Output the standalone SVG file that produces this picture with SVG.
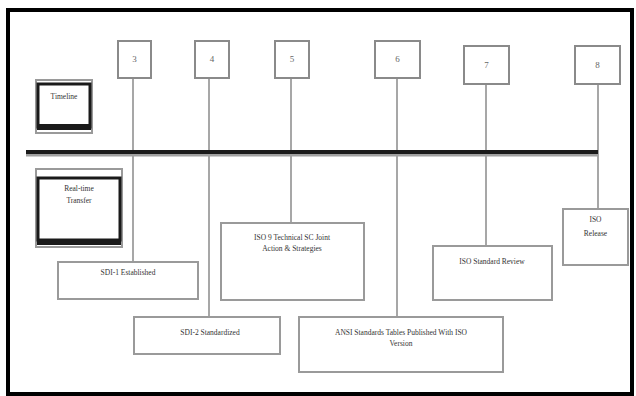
<svg xmlns="http://www.w3.org/2000/svg" width="636" height="396" viewBox="0 0 636 396">
<style>
.frame{fill:none;stroke:#000;stroke-width:4}
.num{fill:#fff;stroke:#8a8a8a;stroke-width:2}
.ev{fill:#fff;stroke:#9a9a9a;stroke-width:2}
.hb{fill:#fff;stroke:#1a1a1a;stroke-width:3}
.hs{fill:none;stroke:#9a9a9a;stroke-width:2}
.t{font-family:"Liberation Serif",serif;font-size:7.5px;fill:#333;text-anchor:middle}
.n{font-family:"Liberation Serif",serif;font-size:9px;fill:#666;text-anchor:middle}
.c{stroke:#8a8a8a;stroke-width:1.5;fill:none}
</style>
<rect x="0" y="0" width="636" height="396" fill="#fff"/>
<rect class="frame" x="8" y="10" width="624" height="384"/>
<g id="connectors">
<line class="c" x1="133" y1="78" x2="133" y2="262"/>
<line class="c" x1="209" y1="78" x2="209" y2="317"/>
<line class="c" x1="291" y1="78" x2="291" y2="223"/>
<line class="c" x1="397" y1="78" x2="397" y2="317"/>
<line class="c" x1="486" y1="84" x2="486" y2="246"/>
<line class="c" x1="598" y1="84" x2="598" y2="209"/>
</g>
<g id="timeline">
<line x1="26" y1="155" x2="598" y2="155" stroke="#a0a0a0" stroke-width="3"/>
<line x1="26" y1="152" x2="598" y2="152" stroke="#1a1a1a" stroke-width="4"/>
</g>
<g id="n3"><rect class="num" x="118" y="41" width="33" height="37"/><text class="n" x="134.5" y="62">3</text></g>
<g id="n4"><rect class="num" x="195" y="41" width="34" height="37"/><text class="n" x="212" y="62">4</text></g>
<g id="n5"><rect class="num" x="275" y="41" width="34" height="37"/><text class="n" x="292" y="62">5</text></g>
<g id="n6"><rect class="num" x="375" y="41" width="45" height="37"/><text class="n" x="397.5" y="62">6</text></g>
<g id="n7"><rect class="num" x="464" y="46" width="45" height="38"/><text class="n" x="486.5" y="68">7</text></g>
<g id="n8"><rect class="num" x="575" y="46" width="45" height="38"/><text class="n" x="597.5" y="68">8</text></g>
<g id="h1">
<rect class="hs" x="36" y="80" width="56" height="53"/>
<rect class="hb" x="38" y="84" width="52" height="43"/>
<line x1="37" y1="127" x2="91" y2="127" stroke="#1a1a1a" stroke-width="6"/>
<text class="t" x="64" y="99">Timeline</text>
</g>
<g id="h2">
<rect class="hs" x="36" y="169" width="86" height="78"/>
<rect class="hb" x="38" y="178" width="82" height="62"/>
<line x1="37" y1="242" x2="121" y2="242" stroke="#1a1a1a" stroke-width="6"/>
<text class="t" x="79" y="191">Real-time</text>
<text class="t" x="79" y="203">Transfer</text>
</g>
<g id="e3"><rect class="ev" x="58" y="262" width="140" height="37"/><text class="t" x="128" y="275">SDI-1 Established</text></g>
<g id="e4"><rect class="ev" x="134" y="317" width="146" height="37"/><text class="t" x="210" y="335">SDI-2 Standardized</text></g>
<g id="e5"><rect class="ev" x="221" y="223" width="143" height="77"/><text class="t" x="292" y="240">ISO 9 Technical SC Joint</text><text class="t" x="292" y="251">Action &amp; Strategies</text></g>
<g id="e6"><rect class="ev" x="299" y="317" width="204" height="55"/><text class="t" x="401" y="335">ANSI Standards Tables Published With ISO</text><text class="t" x="401" y="346">Version</text></g>
<g id="e7"><rect class="ev" x="433" y="246" width="119" height="54"/><text class="t" x="492" y="264">ISO Standard Review</text></g>
<g id="e8"><rect class="ev" x="563" y="209" width="65" height="56"/><text class="t" x="595.5" y="222">ISO</text><text class="t" x="595.5" y="236">Release</text></g>
</svg>
